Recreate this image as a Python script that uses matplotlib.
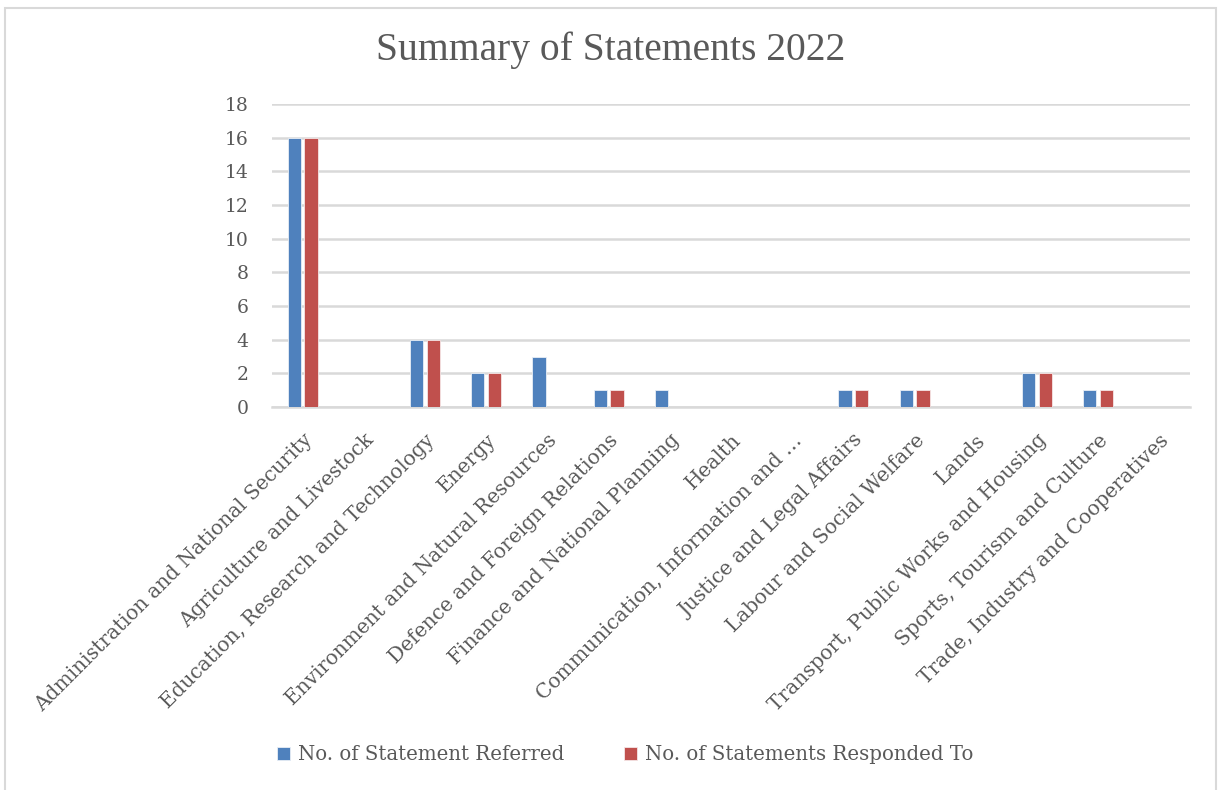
import matplotlib.pyplot as plt
import numpy as np
from matplotlib.patches import Rectangle

plt.rcParams['font.family'] = ['DejaVu Serif']

categories = [
    'Administration and National Security',
    'Agriculture and Livestock',
    'Education, Research and Technology',
    'Energy',
    'Environment and Natural Resources',
    'Defence and Foreign Relations',
    'Finance and National Planning',
    'Health',
    'Communication, Information and …',
    'Justice and Legal Affairs',
    'Labour and Social Welfare',
    'Lands',
    'Transport, Public Works and Housing',
    'Sports, Tourism and Culture',
    'Trade, Industry and Cooperatives',
]
referred = [16, 0, 4, 2, 3, 1, 1, 0, 0, 1, 1, 0, 2, 1, 0]
responded = [16, 0, 4, 2, 0, 1, 0, 0, 0, 1, 1, 0, 2, 1, 0]
series_names = ['No. of Statement Referred', 'No. of Statements Responded To']

blue = '#4F81BD'
red = '#C0504D'
txt = '#595959'
grid = '#D9D9D9'

fig = plt.figure(figsize=(12.21, 7.9), dpi=100)
fig.patches.append(Rectangle((0.004, -0.01), 0.992, 1.0, transform=fig.transFigure,
                             fill=False, edgecolor=grid, linewidth=1.5))

ax = fig.add_axes([0.2228, 0.4848, 0.7518, 0.3836])
x = np.arange(len(categories))
w = 0.215
gap = 0.03
ax.bar(x - w / 2 - gap, referred, w, color=blue, edgecolor='#E8EEF6', linewidth=0.6,
       label=series_names[0], zorder=3)
ax.bar(x + w / 2 + gap, responded, w, color=red, edgecolor='#F5E6E6', linewidth=0.6,
       label=series_names[1], zorder=3)

ax.set_xlim(-0.5, len(categories) - 0.5)
ax.set_ylim(0, 18)
ax.set_yticks(range(0, 19, 2))
ax.grid(axis='y', color=grid, linewidth=1.8, zorder=0)
ax.axhline(0, color=grid, linewidth=1.8, zorder=1, clip_on=False)
for s in ax.spines.values():
    s.set_visible(False)
ax.tick_params(length=0, colors=txt, labelsize=13.5)
ax.tick_params(axis='y', pad=17)
ax.tick_params(axis='x', pad=17, labelsize=14.5)
ax.set_xticks(x)
ax.set_xticklabels(categories, rotation=45, ha='right', rotation_mode='anchor')

fig.suptitle('Summary of Statements 2022', y=0.96, fontsize=28.5, color=txt,
             family='Liberation Serif')

fig.legend(loc='lower center', bbox_to_anchor=(0.512, 0.01), ncol=2, frameon=False,
           fontsize=14.2, labelcolor=txt, handlelength=0.7, handleheight=0.7,
           handletextpad=0.4, columnspacing=3.0)

fig.savefig('out.png', dpi=100)
